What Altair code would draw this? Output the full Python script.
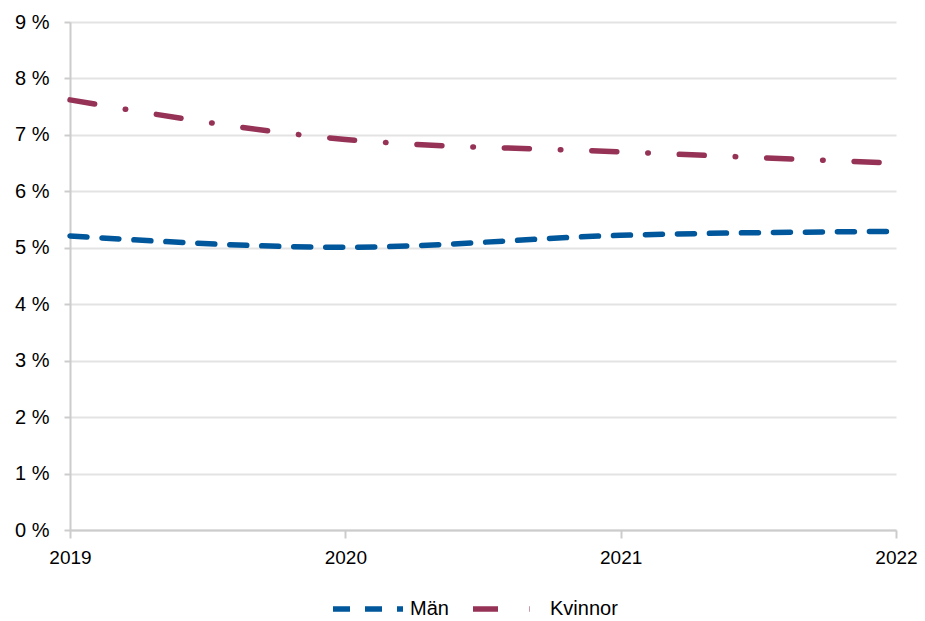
import altair as alt
import pandas as pd

years = [2019, 2020, 2021, 2022]
man = [5.21, 5.01, 5.22, 5.29]
kvinnor = [7.62, 6.92, 6.70, 6.50]
series = ["Män", "Kvinnor"]
colors = ["#00579B", "#963255"]

rows = []
for y, v in zip(years, man):
    rows.append({"year": y, "value": v, "serie": "Män"})
for y, v in zip(years, kvinnor):
    rows.append({"year": y, "value": v, "serie": "Kvinnor"})
df = pd.DataFrame(rows)

font = "Liberation Sans"
fs = 20

legend = alt.Legend(title=None, orient="none", legendX=260, legendY=549,
                    direction="horizontal", symbolType="stroke",
                    symbolStrokeWidth=5.5, symbolSize=4900, labelFontSize=fs,
                    labelColor="#000000", columnPadding=13, labelOffset=4)

chart = alt.Chart(df).mark_line(
    interpolate="monotone", strokeWidth=5.5, strokeCap="round"
).encode(
    x=alt.X("year:Q", scale=alt.Scale(domain=[2019, 2022], nice=False),
            axis=alt.Axis(values=years, format="d", title=None, grid=False,
                          labelFontSize=19, labelPadding=10, tickSize=8,
                          labelFlush=False,
                          domainColor="#cccccc", tickColor="#cccccc",
                          domainWidth=2, tickWidth=2, labelColor="#000000")),
    y=alt.Y("value:Q", scale=alt.Scale(domain=[0, 9], nice=False),
            axis=alt.Axis(values=list(range(0, 10)), labelExpr="datum.value + ' %'",
                          title=None, labelFontSize=fs, labelPadding=15, tickSize=6,
                          gridColor="#e3e3e3", gridWidth=2,
                          domainColor="#cccccc", tickColor="#cccccc",
                          domainWidth=2, tickWidth=2, labelColor="#000000")),
    color=alt.Color("serie:N", scale=alt.Scale(domain=series, range=colors),
                    legend=legend),
    strokeDash=alt.StrokeDash("serie:N", scale=alt.Scale(domain=series,
                              range=[[17, 15], [25, 31, 0.5, 31]]),
                              legend=legend),
).properties(
    width=826, height=508,
    autosize=alt.AutoSizeParams(type="none"),
    padding={"left": 62, "top": 14, "right": 21, "bottom": 91},
).configure(font=font).configure_view(stroke=None)

chart.save("out.html", embed_options={"renderer": "svg", "actions": False})
